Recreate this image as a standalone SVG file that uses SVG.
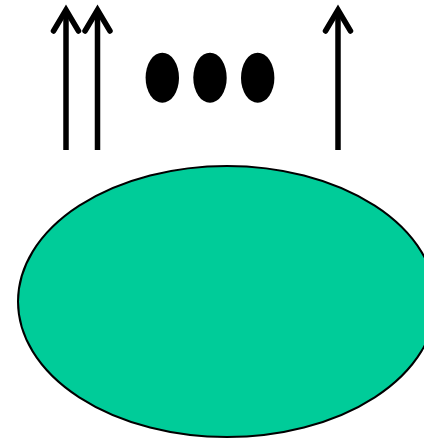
<svg xmlns="http://www.w3.org/2000/svg" width="424" height="440" viewBox="0 0 424 440">
<style>
.arr{stroke:#000;stroke-width:5.5;fill:none;stroke-linecap:butt}
.head{stroke:#000;stroke-width:5.5;fill:none;stroke-linecap:round;stroke-linejoin:miter}
.dot{fill:#000}
</style>
<rect width="424" height="440" fill="#fff"/>
<g id="connectors">
<path class="arr" d="M66 150V11"/>
<path class="head" d="M53.5 31L66 10L78.5 31"/>
<path class="arr" d="M97.5 150V11"/>
<path class="head" d="M85 31L97.5 10L110 31"/>
<path class="arr" d="M338 150V11"/>
<path class="head" d="M325.5 31L338 10L350.5 31"/>
</g>
<g id="dots">
<ellipse class="dot" cx="162.3" cy="77.7" rx="16.7" ry="25"/>
<ellipse class="dot" cx="210" cy="77.7" rx="16.7" ry="25"/>
<ellipse class="dot" cx="257.7" cy="77.7" rx="16.7" ry="25"/>
</g>
<g id="node">
<ellipse cx="227" cy="301.5" rx="209" ry="135.5" fill="#00cc99" stroke="#000" stroke-width="2"/>
</g>
</svg>
